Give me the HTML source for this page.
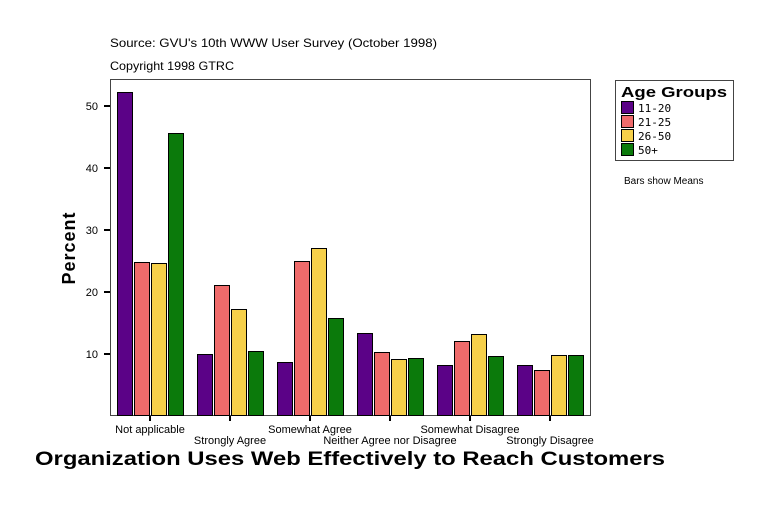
<!DOCTYPE html>
<html><head><style>body{margin:0;background:#fff}</style></head><body>
<svg width="769" height="506" xmlns="http://www.w3.org/2000/svg" font-family="Liberation Sans, sans-serif">
<rect width="769" height="506" fill="#fff"/>
<text x="110" y="47" font-size="12" textLength="327" lengthAdjust="spacingAndGlyphs">Source: GVU's 10th WWW User Survey (October 1998)</text>
<text x="110" y="70" font-size="12" textLength="124" lengthAdjust="spacingAndGlyphs">Copyright 1998 GTRC</text>
<rect x="110.5" y="79.5" width="480" height="336" fill="none" stroke="#444"/>
<g stroke="#000" stroke-width="2">
<line x1="104" y1="106" x2="110" y2="106"/><line x1="104" y1="168" x2="110" y2="168"/><line x1="104" y1="230" x2="110" y2="230"/><line x1="104" y1="292" x2="110" y2="292"/><line x1="104" y1="354" x2="110" y2="354"/>
<line x1="150" y1="416" x2="150" y2="421"/><line x1="230" y1="416" x2="230" y2="421"/><line x1="310" y1="416" x2="310" y2="421"/><line x1="390" y1="416" x2="390" y2="421"/><line x1="470" y1="416" x2="470" y2="421"/><line x1="550" y1="416" x2="550" y2="421"/>
</g>
<g font-size="11" text-anchor="end">
<text x="98" y="110">50</text><text x="98" y="172">40</text><text x="98" y="234">30</text><text x="98" y="296">20</text><text x="98" y="358">10</text>
</g>
<g stroke="#000" stroke-width="1">
<rect x="117.5" y="92.5" width="15" height="323" fill="#5b0287"/>
<rect x="134.5" y="262.5" width="15" height="153" fill="#ef6b6b"/>
<rect x="151.5" y="263.5" width="15" height="152" fill="#f6d04a"/>
<rect x="168.5" y="133.5" width="15" height="282" fill="#0b7a0b"/>
<rect x="197.5" y="354.5" width="15" height="61" fill="#5b0287"/>
<rect x="214.5" y="285.5" width="15" height="130" fill="#ef6b6b"/>
<rect x="231.5" y="309.5" width="15" height="106" fill="#f6d04a"/>
<rect x="248.5" y="351.5" width="15" height="64" fill="#0b7a0b"/>
<rect x="277.5" y="362.5" width="15" height="53" fill="#5b0287"/>
<rect x="294.5" y="261.5" width="15" height="154" fill="#ef6b6b"/>
<rect x="311.5" y="248.5" width="15" height="167" fill="#f6d04a"/>
<rect x="328.5" y="318.5" width="15" height="97" fill="#0b7a0b"/>
<rect x="357.5" y="333.5" width="15" height="82" fill="#5b0287"/>
<rect x="374.5" y="352.5" width="15" height="63" fill="#ef6b6b"/>
<rect x="391.5" y="359.5" width="15" height="56" fill="#f6d04a"/>
<rect x="408.5" y="358.5" width="15" height="57" fill="#0b7a0b"/>
<rect x="437.5" y="365.5" width="15" height="50" fill="#5b0287"/>
<rect x="454.5" y="341.5" width="15" height="74" fill="#ef6b6b"/>
<rect x="471.5" y="334.5" width="15" height="81" fill="#f6d04a"/>
<rect x="488.5" y="356.5" width="15" height="59" fill="#0b7a0b"/>
<rect x="517.5" y="365.5" width="15" height="50" fill="#5b0287"/>
<rect x="534.5" y="370.5" width="15" height="45" fill="#ef6b6b"/>
<rect x="551.5" y="355.5" width="15" height="60" fill="#f6d04a"/>
<rect x="568.5" y="355.5" width="15" height="60" fill="#0b7a0b"/>
</g>
<g font-size="11" text-anchor="middle">
<text x="150" y="433">Not applicable</text>
<text x="230" y="444">Strongly Agree</text>
<text x="310" y="433">Somewhat Agree</text>
<text x="390" y="444">Neither Agree nor Disagree</text>
<text x="470" y="433">Somewhat Disagree</text>
<text x="550" y="444">Strongly Disagree</text>
</g>
<text x="35" y="465" font-size="19" font-weight="bold" textLength="630" lengthAdjust="spacingAndGlyphs">Organization Uses Web Effectively to Reach Customers</text>
<text transform="translate(75,248) rotate(-90)" font-size="18" font-weight="bold" text-anchor="middle" letter-spacing="1">Percent</text>
<rect x="615.5" y="80.5" width="118" height="80" fill="#fff" stroke="#444"/>
<text x="621" y="97" font-size="15" font-weight="bold" textLength="106" lengthAdjust="spacingAndGlyphs">Age Groups</text>
<g stroke="#000" font-size="11" font-family="DejaVu Sans Mono, monospace">
<rect x="621.5" y="101.5" width="12" height="12" fill="#5b0287"/><text x="638" y="112" stroke="none">11-20</text>
<rect x="621.5" y="115.5" width="12" height="12" fill="#ef6b6b"/><text x="638" y="126" stroke="none">21-25</text>
<rect x="621.5" y="129.5" width="12" height="12" fill="#f6d04a"/><text x="638" y="140" stroke="none">26-50</text>
<rect x="621.5" y="143.5" width="12" height="12" fill="#0b7a0b"/><text x="638" y="154" stroke="none">50+</text>
</g>
<text x="624" y="184" font-size="10">Bars show Means</text>
</svg>
</body></html>
